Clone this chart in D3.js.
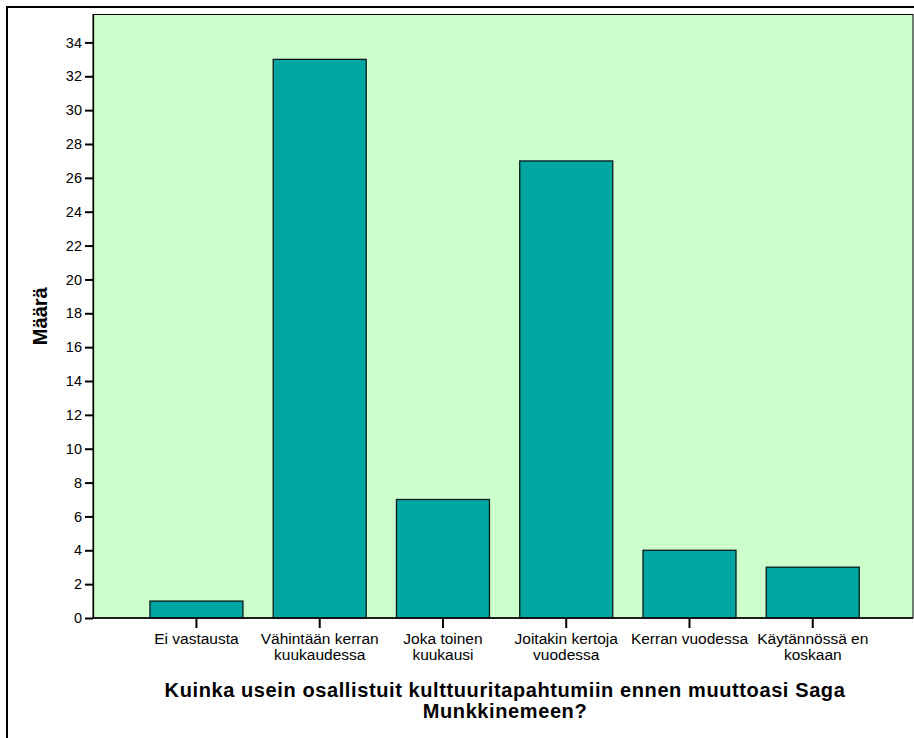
<!DOCTYPE html>
<html>
<head>
<meta charset="utf-8">
<script src="https://cdn.jsdelivr.net/npm/d3@7"></script>
<style>
  html, body { margin: 0; padding: 0; background: #ffffff; }
  svg { display: block; }
  text { font-family: "Liberation Sans", Arial, sans-serif; fill: #000; }
</style>
</head>
<body>
<svg id="chart" width="914" height="738"></svg>
<script>
// ---- data ----
const categories = [
  ["Ei vastausta"],
  ["Vähintään kerran", "kuukaudessa"],
  ["Joka toinen", "kuukausi"],
  ["Joitakin kertoja", "vuodessa"],
  ["Kerran vuodessa"],
  ["Käytännössä en", "koskaan"]
];
const values = [1, 33, 7, 27, 4, 3];
const yTicks = [0, 2, 4, 6, 8, 10, 12, 14, 16, 18, 20, 22, 24, 26, 28, 30, 32, 34];
const yLabel = "Määrä";
const xTitle = ["Kuinka usein osallistuit kulttuuritapahtumiin ennen muuttoasi Saga", "Munkkinemeen?"];

// ---- layout ----
const svg = d3.select("#chart");
const plot = { left: 93, right: 913, top: 14.5, bottom: 618 };

const keys = categories.map((c, i) => i);
const x = d3.scaleBand()
  .domain(keys)
  .range([94.6, 914.6])
  .paddingInner(0.2455)
  .paddingOuter(0.449);

const y = d3.scaleLinear()
  .domain([0, 35.65])
  .range([plot.bottom, plot.top]);

// outer frame
svg.append("path")
  .attr("d", "M7,760 L7,7 L930,7")
  .attr("fill", "none")
  .attr("stroke", "#000")
  .attr("stroke-width", 2);

// plot background
svg.append("rect")
  .attr("x", plot.left).attr("y", plot.top)
  .attr("width", plot.right - plot.left)
  .attr("height", plot.bottom - plot.top)
  .attr("fill", "#ccffcc")
  .attr("stroke", "#000")
  .attr("stroke-width", 1);

// bars
svg.append("g").selectAll("rect")
  .data(values)
  .join("rect")
  .attr("x", (d, i) => x(i))
  .attr("y", d => y(d))
  .attr("width", x.bandwidth())
  .attr("height", d => y(0) - y(d))
  .attr("fill", "#00a6a2")
  .attr("stroke", "#0a1a1a")
  .attr("stroke-width", 1.3);

// y axis
const yAxis = d3.axisLeft(y)
  .tickValues(yTicks)
  .tickSizeInner(8)
  .tickSizeOuter(0)
  .tickPadding(3)
  .tickFormat(d3.format("d"));
const gy = svg.append("g")
  .attr("transform", `translate(${plot.left},0)`)
  .call(yAxis);
gy.select(".domain").attr("stroke", "#000").attr("stroke-width", 1.3);
gy.selectAll(".tick line").attr("stroke", "#000").attr("stroke-width", 2);
gy.selectAll(".tick text")
  .attr("font-size", "14.5px")
  .attr("font-family", "'Liberation Sans', Arial, sans-serif")
  .attr("fill", "#000");

// x axis
const xAxis = d3.axisBottom(x).tickSizeInner(10).tickSizeOuter(0).tickFormat("");
const gx = svg.append("g")
  .attr("transform", `translate(0,${plot.bottom})`)
  .call(xAxis);
gx.select(".domain").remove();
svg.append("line")
  .attr("x1", plot.left).attr("x2", plot.right)
  .attr("y1", plot.bottom).attr("y2", plot.bottom)
  .attr("stroke", "#000").attr("stroke-width", 1.3);
gx.selectAll(".tick line").attr("stroke", "#000").attr("stroke-width", 2);

// category labels (multi-line)
gx.selectAll(".tick").each(function(d) {
  const t = d3.select(this).append("text")
    .attr("text-anchor", "middle")
    .attr("font-size", "15.5px")
    .attr("font-family", "'Liberation Sans', Arial, sans-serif")
    .attr("fill", "#000")
    .attr("y", 26);
  categories[d].forEach((line, j) => {
    t.append("tspan").attr("x", 0).attr("dy", j === 0 ? 0 : 15.5).text(line);
  });
});

// x title
const cx = (plot.left + plot.right) / 2 + 2;
const title = svg.append("text")
  .attr("text-anchor", "middle")
  .attr("font-size", "20px")
  .attr("font-weight", "bold")
  .attr("letter-spacing", "0.6px")
  .attr("y", 696.5);
xTitle.forEach((line, j) => {
  title.append("tspan").attr("x", cx).attr("dy", j === 0 ? 0 : 21).text(line);
});

// y label
svg.append("text")
  .attr("transform", `translate(47,${(plot.top + plot.bottom) / 2}) rotate(-90)`)
  .attr("text-anchor", "middle")
  .attr("font-size", "20px")
  .attr("font-weight", "bold")
  .text(yLabel);
</script>
</body>
</html>
